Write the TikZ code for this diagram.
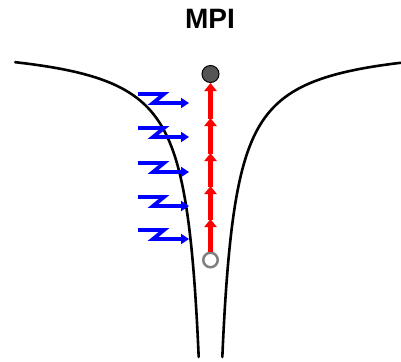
\documentclass[tikz,border=0pt]{standalone}
\usepackage{fontspec}
\setmainfont{Liberation Sans}
\usetikzlibrary{arrows.meta}
\definecolor{PulseBlue}{RGB}{0,0,255}
\definecolor{FieldRed}{RGB}{255,0,0}
\definecolor{IonGray}{RGB}{85,85,85}

\begin{document}
\begin{tikzpicture}[x=1pt,y=-1pt,
  wall/.style={line width=2.6pt,line cap=round},
  bolt/.style={PulseBlue,line width=3.8pt,-{Triangle[length=8pt,width=10pt]}},
  fld/.style={FieldRed,line width=4.2pt,-{Triangle[length=8pt,width=12pt]},shorten <=-0.5pt}]
\useasboundingbox (0,0) rectangle (401,361);
\node[font=\bfseries\fontsize{28}{30}\selectfont] (title) at (210,19) {MPI};
\draw[wall] plot[smooth,domain=62.2:357,samples=240] ({210.5-4380/(\x-40)+2},\x);
\draw[wall] plot[smooth,domain=62.8:357,samples=240] ({210.5+4380/(\x-40)-2},\x);
\node[circle,draw=gray,line width=2.5pt,fill=white,minimum size=14.5pt,inner sep=0pt] (src) at (210.5,260) {};
\node[circle,draw,fill=IonGray,line width=1pt,minimum size=17pt,inner sep=0pt] (ion) at (210.5,74) {};
\foreach \n/\y in {a/219,b/186,c/153,d/118}
  \coordinate (\n) at (210.5,\y);
\foreach \s/\t in {src/a,a/b,b/c,c/d,d/ion}
  \draw[fld] (\s) -- (\t);
\foreach \y in {94,128,163,197,230}
  \draw[bolt] (138,\y) -- (164,\y) -- (153,\y+9) -- (189,\y+9);
\end{tikzpicture}
\end{document}
